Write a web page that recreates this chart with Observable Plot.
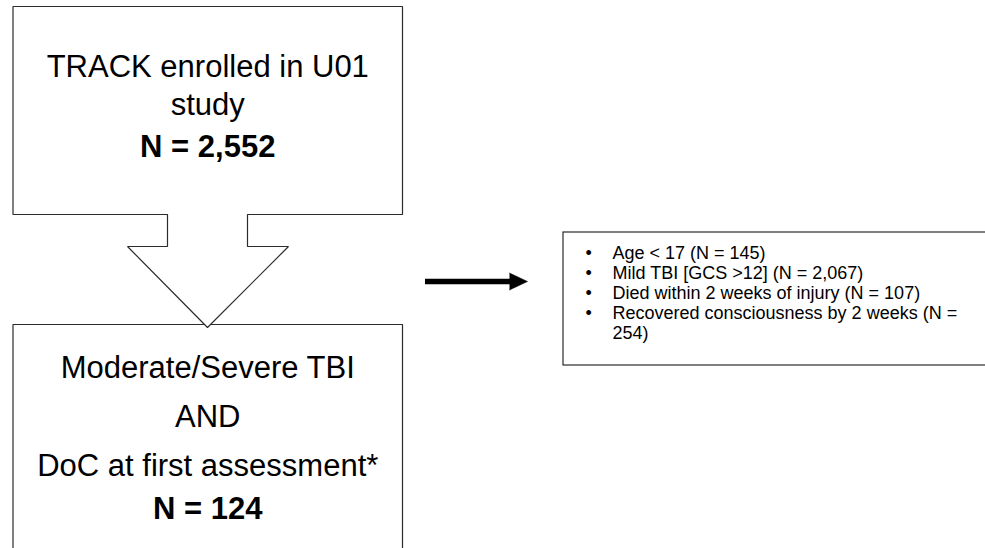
<!DOCTYPE html>
<html><head><meta charset="utf-8">
<script src="https://cdn.jsdelivr.net/npm/d3@7"></script>
<script src="https://cdn.jsdelivr.net/npm/@observablehq/plot@0.6"></script>
<style>
html,body{margin:0;padding:0;background:#fff}
#chart svg{display:block}
</style>
</head><body><div id="chart"></div>
<script>
// ---- content (flowchart text) ----
const topLabels = ["TRACK enrolled in U01", "study"];
const topCount = "N = 2,552";
const bottomLabels = ["Moderate/Severe TBI", "AND", "DoC at first assessment*"];
const bottomCount = "N = 124";
const exclusionItems = [
  "Age < 17 (N = 145)",
  "Mild TBI [GCS >12] (N = 2,067)",
  "Died within 2 weeks of injury (N = 107)",
  "Recovered consciousness by 2 weeks (N =",
  "254)"
];
const exclusionBullets = [true, true, true, true, false];

// ---- layout (diagram geometry, in page pixels) ----
const layout = {
  boxL: 12.5, boxR: 402, topY1: 6, topY2: 214,
  stemL: 167, stemR: 247, stemY: 246, headL: 127, headR: 288, tipX: 207, tipY: 327,
  botY1: 324, botY2: 548,
  exL: 563, exR: 992, exY1: 232, exY2: 365,
  arrowX1: 425, arrowX2: 527, arrowHead: 18, arrowHalf: 8.5, arrowY: 281,
  topTextY: [67, 105, 147], botTextY: [368, 417, 466, 509],
  exBulletX: 585, exTextX: 612, exTextY0: 253, exLineH: 20
};
const L = layout;

// outline of top box merged with the hollow block arrow
const topShape = [
  [L.stemL, L.topY2], [L.boxL, L.topY2], [L.boxL, L.topY1], [L.boxR, L.topY1], [L.boxR, L.topY2],
  [L.stemR, L.topY2], [L.stemR, L.stemY], [L.headR, L.stemY], [L.tipX, L.tipY],
  [L.headL, L.stemY], [L.stemL, L.stemY], [L.stemL, L.topY2]
].map(([x, y]) => ({x, y}));
const bottomShape = [[L.boxL, L.botY2], [L.boxL, L.botY1], [L.boxR, L.botY1], [L.boxR, L.botY2]].map(([x, y]) => ({x, y}));
const arrowHeadPts = [
  [L.arrowX2 - L.arrowHead, L.arrowY - L.arrowHalf], [L.arrowX2, L.arrowY], [L.arrowX2 - L.arrowHead, L.arrowY + L.arrowHalf]
].map(([x, y]) => ({x, y}));

const cx = (L.boxL + L.boxR) / 2;
const topText = topLabels.map((t, i) => ({t, x: cx, y: L.topTextY[i], bold: false}))
  .concat([{t: topCount, x: cx, y: L.topTextY[2], bold: true}]);
const botText = bottomLabels.map((t, i) => ({t, x: cx, y: L.botTextY[i], bold: false}))
  .concat([{t: bottomCount, x: cx, y: L.botTextY[3], bold: true}]);
const exText = exclusionItems.map((t, i) => ({t, y: L.exTextY0 + i * L.exLineH, bullet: exclusionBullets[i]}));

const ink = "#2b2b2b";
const font = "'Liberation Sans', Arial, Helvetica, sans-serif";

const chart = Plot.plot({
  width: 985, height: 548, margin: 0,
  x: {domain: [0, 985], range: [0, 985], axis: null},
  y: {domain: [0, 548], range: [0, 548], axis: null},
  style: {fontFamily: font, background: "#fff", color: "#000"},
  marks: [
    Plot.line(bottomShape, {x: "x", y: "y", stroke: ink, strokeWidth: 1.2, strokeLinejoin: "miter"}),
    Plot.line(topShape, {x: "x", y: "y", stroke: ink, fill: "white", strokeWidth: 1.2, strokeLinejoin: "miter"}),
    Plot.rect([{x1: L.exL, x2: L.exR, y1: L.exY1, y2: L.exY2}], {x1: "x1", x2: "x2", y1: "y1", y2: "y2", fill: "white", stroke: ink, strokeWidth: 1.2}),
    Plot.ruleY([L.arrowY], {x1: L.arrowX1, x2: L.arrowX2 - L.arrowHead + 1, stroke: "#000", strokeWidth: 5.5}),
    Plot.line(arrowHeadPts, {x: "x", y: "y", fill: "#000", stroke: "#000", strokeWidth: 0.5}),
    Plot.text(topText.concat(botText).filter(d => !d.bold), {x: "x", y: "y", text: "t", fontSize: 31, fill: "#000", fontFamily: font}),
    Plot.text(topText.concat(botText).filter(d => d.bold), {x: "x", y: "y", text: "t", fontSize: 31, fontWeight: "bold", fill: "#000", fontFamily: font}),
    Plot.text(exText.filter(d => d.bullet), {x: L.exBulletX, y: "y", text: () => "•", fontSize: 18, textAnchor: "start", fill: "#000", fontFamily: font}),
    Plot.text(exText, {x: L.exTextX, y: "y", text: "t", fontSize: 18, textAnchor: "start", fill: "#000", fontFamily: font})
  ]
});
document.getElementById("chart").appendChild(chart);
</script>
</body></html>
